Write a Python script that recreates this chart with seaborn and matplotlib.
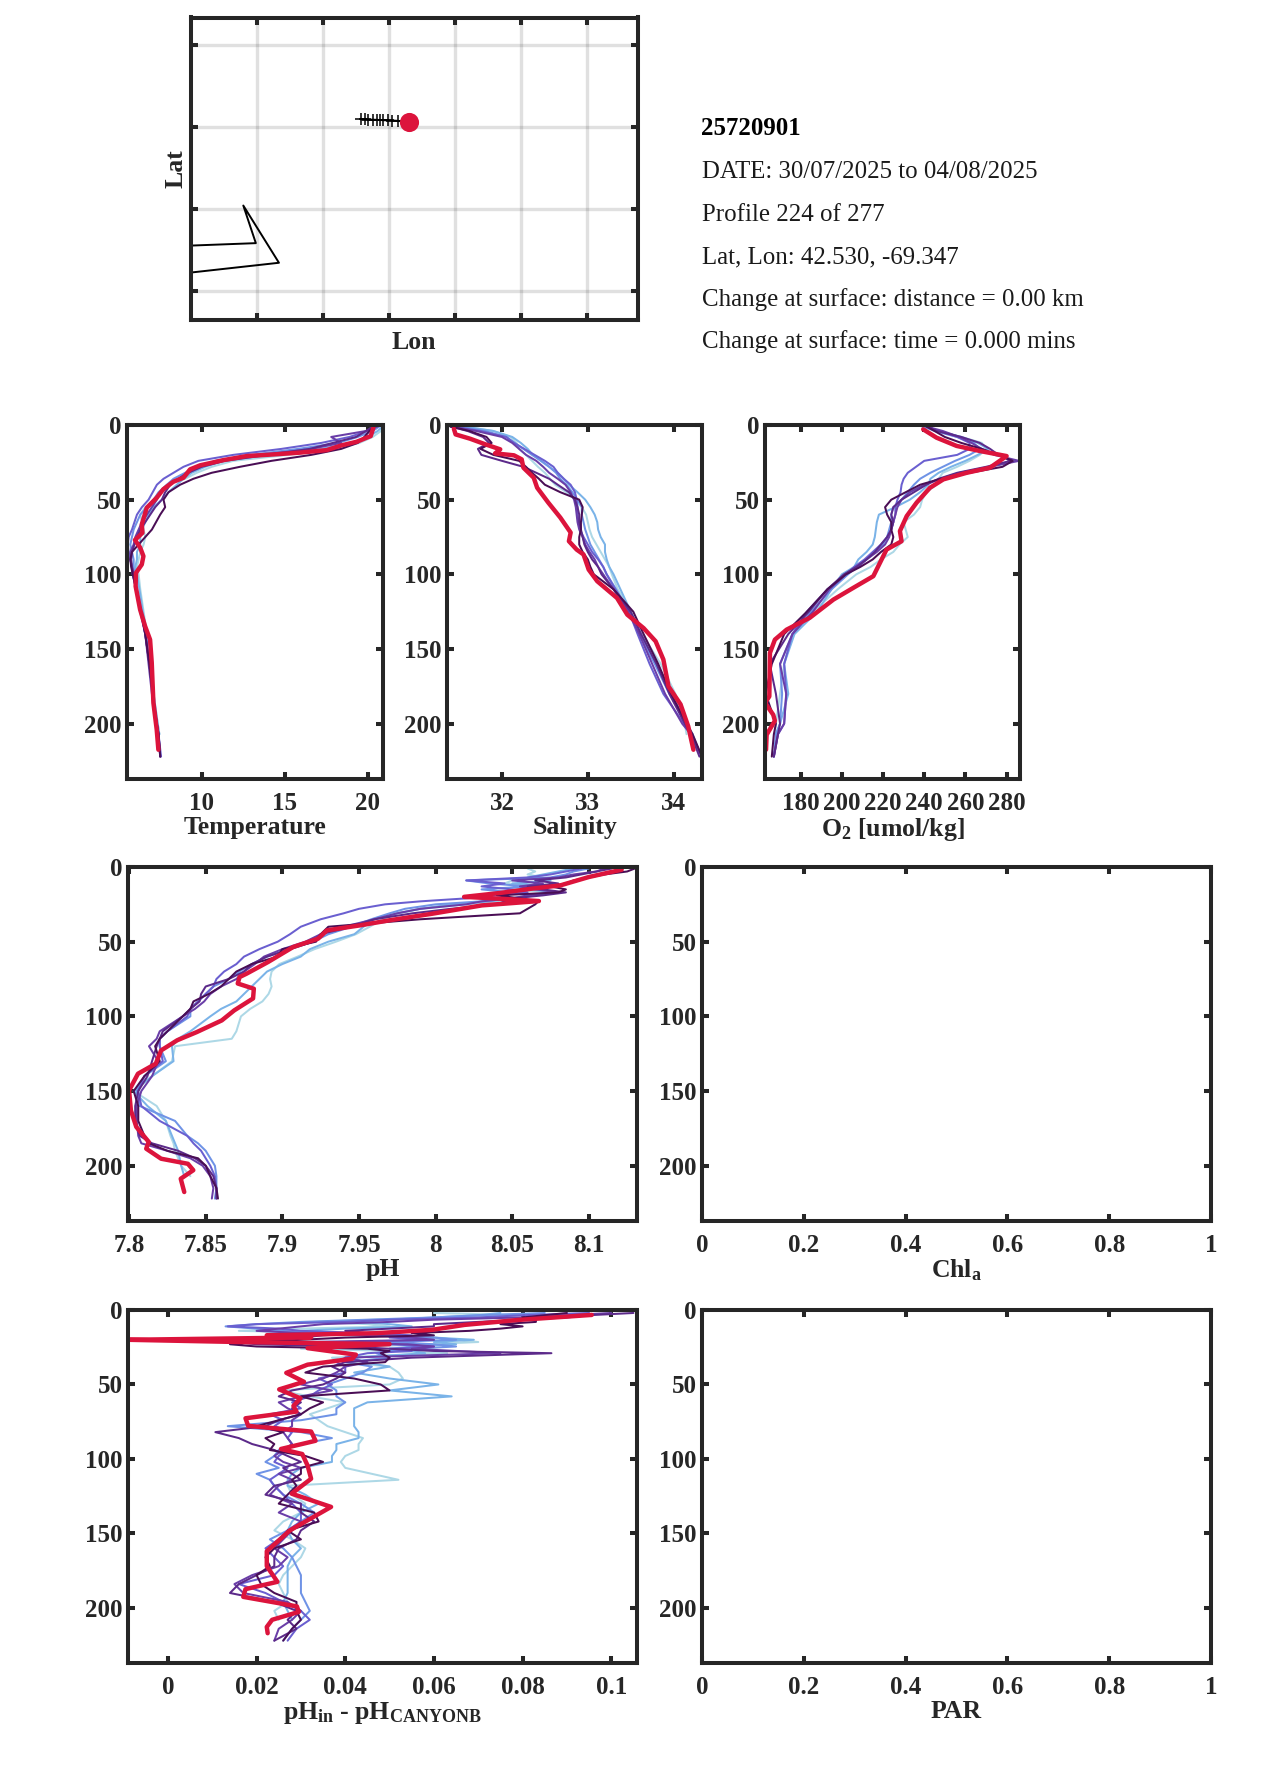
import numpy as np
import matplotlib
matplotlib.use('Agg')
import matplotlib.pyplot as plt
import seaborn as sns

W, H = 1275, 1771
INK = '#262626'
RED = '#DC143C'
SERIES_COLORS = ['#add8e6', '#7ab3e8', '#6f93e6', '#6a5fd0', '#6a3ea8', '#5c2a8a', '#4a0e55']

# map
COAST_LON = [-71.0, -70.505, -70.6, -70.33, -71.0]
COAST_LAT = [41.775, 41.79, 42.02, 41.67, 41.61]
TRACK_LON = [-69.71, -69.68, -69.655, -69.62, -69.585, -69.565, -69.54, -69.505, -69.47, -69.43, -69.347]
TRACK_LAT = [42.547, 42.547, 42.546, 42.545, 42.544, 42.543, 42.542, 42.541, 42.54, 42.538, 42.53]
LON_TICKS = [-70.5, -70, -69.5, -69, -68.5, -68]
LAT_TICKS = [41.5, 42, 42.5, 43]
INFO_ID = '25720901'
INFO_LINES = ['DATE: 30/07/2025 to 04/08/2025', 'Profile 224 of 277', 'Lat, Lon: 42.530, -69.347',
              'Change at surface: distance = 0.00 km', 'Change at surface: time = 0.000 mins']

DEPTH_TICKS = [0, 50, 100, 150, 200]

# temperature / salinity / oxygen share one depth grid
DEPTH_A = [1, 4, 8, 12, 16, 20, 24, 28, 32, 36, 40, 45, 50, 55, 60, 65, 70, 75, 80, 85, 90, 95, 100, 110, 125, 140, 160, 180, 200, 207, 222]

TEMP = [
    [20.9, 20.8, 20.3, 19.5, 18.0, 15.2, 11.9, 10.6, 9.7, 9.0, 7.9, 7.5, 7.2, 6.6, 6.3, 6.4, 6.5, 6.6, 6.5, 6.3, 6.2, 6.1, 6.2, 6.3, 6.5, 6.7, 6.9, 7.1, 7.35, 7.45],
    [20.9, 20.6, 20.0, 19.0, 17.2, 14.0, 11.3, 10.2, 9.4, 8.9, 8.5, 8.0, 7.6, 7.1, 6.8, 6.6, 6.4, 6.3, 6.3, 6.1, 6.1, 6.0, 6.1, 6.25, 6.45, 6.7, 6.9, 7.1, 7.35, 7.45],
    [20.7, 20.3, 19.4, 18.2, 15.8, 13.0, 10.8, 9.9, 9.0, 8.3, 7.9, 7.4, 7.1, 6.7, 6.3, 6.1, 5.9, 5.8, 5.7, 5.8, 5.9, 5.9, 5.95, 6.1, 6.4, 6.65, 6.85, 7.05, 7.3, 7.4],
    [20.4, 20.0, 18.9, 17.2, 14.8, 11.9, 9.8, 8.9, 8.3, 7.7, 7.3, 7.05, 6.8, 6.4, 6.1, 5.95, 5.8, 5.6, 5.55, 5.6, 5.7, 5.8, 5.85, 6.05, 6.35, 6.6, 6.85, 7.05, 7.3, 7.4, 7.55],
    [20.6, 19.9, 17.8, 18.4, 16.6, 13.6, 10.9, 9.8, 9.1, 8.6, 8.0, 7.5, 7.3, 7.0, 6.7, 6.4, 6.2, 6.0, 5.9, 5.7, 5.7, 5.8, 5.85, 6.05, 6.3, 6.6, 6.8, 7.0, 7.25, 7.4, 7.5],
    [20.3, 19.9, 19.3, 17.9, 16.5, 14.0, 11.4, 10.0, 9.2, 8.6, 8.1, 7.8, 7.6, 7.2, 6.9, 6.6, 6.3, 6.1, 5.95, 5.8, 5.75, 5.8, 5.9, 6.05, 6.35, 6.6, 6.85, 7.05, 7.3, 7.4, 7.5],
    [20.4, 20.1, 19.8, 19.4, 18.4, 16.6, 14.2, 12.3, 10.6, 9.5, 8.7, 8.0, 7.7, 7.8, 7.5, 7.25, 7.0, 6.6, 6.2, 5.8, 5.7, 5.75, 5.85, 6.05, 6.35, 6.6, 6.85, 7.05, 7.3, 7.4, 7.5],
]
TEMP_RED = [20.34, 20.18, 19.34, 18.43, 17.53, 15.92, 14.32, 12.71, 11.31, 9.9, 9.3, 8.9, 8.29, 7.69, 7.29, 6.69, 6.39, 6.43, 5.98, 6.29, 6.49, 6.39, 6.04, 6.02, 6.29, 6.59, 6.89, 6.99, 7.09, 7.29, 7.39]
TEMP_RED_D = [1.8, 7.4, 11.2, 13.6, 16.8, 18.5, 19.7, 20.8, 23.5, 27, 29.7, 35.3, 38, 43, 48.7, 55.4, 66.6, 72.2, 77, 82, 87.8, 93.4, 99, 108, 123.6, 134.7, 143.7, 159, 186, 204, 217.4]

SAL = [
    [31.55, 31.9, 32.1, 32.17, 32.2, 32.28, 32.35, 32.42, 32.5, 32.56, 32.62, 32.75, 32.85, 32.93, 32.98, 33.0, 33.02, 33.05, 33.1, 33.15, 33.2, 33.25, 33.28, 33.35, 33.5, 33.63, 33.85, 34.02, 34.13, 34.15],
    [31.55, 31.9, 32.12, 32.22, 32.3, 32.36, 32.45, 32.55, 32.65, 32.72, 32.78, 32.88, 32.97, 33.03, 33.08, 33.11, 33.12, 33.15, 33.2, 33.2, 33.22, 33.25, 33.3, 33.38, 33.5, 33.62, 33.8, 33.98, 34.15, 34.22],
    [31.48, 31.8, 32.05, 32.15, 32.25, 32.35, 32.46, 32.55, 32.63, 32.68, 32.75, 32.82, 32.88, 32.93, 32.93, 32.95, 32.97, 33.0, 33.03, 33.08, 33.13, 33.18, 33.22, 33.33, 33.48, 33.6, 33.78, 33.95, 34.15, 34.22, 34.32],
    [31.42, 31.75, 32.05, 32.14, 32.26, 32.38, 32.5, 32.6, 32.65, 32.72, 32.8, 32.85, 32.87, 32.88, 32.88, 32.89, 32.91, 32.95, 33.0, 33.05, 33.12, 33.18, 33.22, 33.32, 33.48, 33.58, 33.72, 33.88, 34.12, 34.2, 34.33],
    [31.4, 31.7, 32.0, 32.12, 32.2, 32.28, 32.4, 32.48, 32.55, 32.65, 32.74, 32.8, 32.84, 32.86, 32.87, 32.88, 32.9, 32.94, 32.97, 33.02, 33.08, 33.12, 33.18, 33.3, 33.47, 33.6, 33.75, 33.9, 34.1, 34.2, 34.33],
    [31.4, 31.6, 31.78, 31.85, 31.72, 31.76, 32.0, 32.25, 32.4, 32.55, 32.65, 32.78, 32.85, 32.88, 32.9, 32.9, 32.92, 32.94, 32.96, 33.0, 33.05, 33.12, 33.16, 33.3, 33.5, 33.62, 33.8, 33.95, 34.13, 34.2, 34.3],
    [31.4, 31.62, 31.82, 31.88, 31.75, 31.9, 32.2, 32.28, 32.35, 32.43, 32.5, 32.68, 32.9, 32.94, 32.93, 32.92, 32.92, 32.9, 32.9, 32.94, 33.0, 33.03, 33.07, 33.3, 33.53, 33.65, 33.82, 33.97, 34.15, 34.22, 34.33],
]
SAL_RED = [31.44, 31.46, 31.63, 31.81, 31.98, 31.92, 32.14, 32.23, 32.25, 32.37, 32.41, 32.54, 32.68, 32.8, 32.78, 32.87, 32.95, 33.01, 33.11, 33.34, 33.46, 33.65, 33.79, 33.88, 33.94, 34.08, 34.17, 34.23]
SAL_RED_D = [2.5, 6.3, 9.2, 13, 16.3, 19, 20.3, 23, 28.6, 35.3, 42, 52, 62, 72, 77.8, 83.4, 86.7, 96.8, 104.6, 115.8, 127, 136, 144.8, 157, 175, 187, 201.8, 217.4]

OXY = [
    [239, 246, 258, 268, 270, 267, 262, 256, 249, 247, 246, 241, 239, 238, 235, 230, 231, 232, 228, 225, 219, 214, 207, 198, 186, 176, 172, 170, 168, 167.5],
    [239, 247, 258, 266, 271, 266, 260, 253, 247, 243, 242, 238, 233, 226, 218, 217, 216.5, 216, 215, 212, 208, 206, 200, 195, 188, 177, 172, 174, 170, 168],
    [240, 245, 256, 264, 267, 262, 255, 249, 243, 238, 235, 232, 229, 225, 224, 224, 223, 222, 220, 216, 212, 207, 203, 195, 185, 176, 170, 171, 170, 168, 167],
    [241, 247, 256, 262, 262, 256, 240, 236, 232, 230, 229, 228.5, 227, 226, 226, 225, 224, 222, 219, 215, 211, 206, 202, 193, 183, 176, 172, 173, 172, 169, 167],
    [241, 249, 257, 263, 268, 274, 286, 272, 257, 248, 240, 233, 229, 227, 226, 225, 224, 223, 221, 217, 212, 208, 202, 194, 186, 176, 170, 173, 172, 169, 167],
    [242, 246, 258, 267, 272, 276, 282, 270, 256, 247, 241, 235, 229, 225, 224, 225, 224, 222, 219, 216, 212, 207, 201, 193, 184, 174, 165, 168, 170, 169, 167],
    [241, 245, 250, 258, 268, 276, 283, 278, 262, 248, 238, 231, 224, 221, 222, 224, 224, 225, 224, 219, 215, 209, 202, 193, 183, 172, 166, 163, 168, 167, 166],
]
OXY_RED = [239.5, 246, 255.7, 267, 280, 271.9, 260.6, 249.3, 242.8, 236.3, 231.5, 228.2, 229, 221.7, 218.5, 215.3, 205.6, 195.9, 184.5, 173.2, 167.5, 165.1, 164.8, 162.7, 166.7, 167.5, 163.5, 163.2]
OXY_RED_D = [2.9, 8.5, 14, 17.4, 20.8, 28.6, 32, 36.4, 42, 52, 61, 71, 77.8, 83.4, 92.3, 101.2, 109, 116.9, 129, 137, 143.7, 152.6, 181.7, 186, 194, 198, 207.4, 217.4]

DEPTH_P = [1, 3, 5, 7, 9, 11, 13, 15, 17, 19, 21, 23, 25, 28, 31, 35, 40, 45, 50, 55, 60, 65, 70, 75, 80, 85, 90, 95, 100, 110, 115, 120, 130, 140, 150, 160, 170, 180, 185, 190, 195, 200, 207, 215, 222]
PH = [
    [8.06, 8.065, 8.06, 8.07, 8.05, 8.045, 8.07, 8.05, 8.075, 8.06, 8.05, 8.04, 8.02, 7.99, 7.975, 7.965, 7.957, 7.948, 7.935, 7.921, 7.91, 7.898, 7.893, 7.892, 7.893, 7.891, 7.887, 7.879, 7.873, 7.87, 7.867, 7.83, 7.828, 7.815, 7.803, 7.818, 7.824, 7.827, 7.829, 7.83, 7.832, 7.834, 7.84],
    [8.09, 8.08, 8.07, 8.06, 8.075, 8.05, 8.08, 8.06, 8.08, 8.065, 8.05, 8.035, 8.01, 7.99, 7.975, 7.96, 7.953, 7.947, 7.93, 7.918, 7.912, 7.9, 7.89, 7.885, 7.88, 7.875, 7.87, 7.86, 7.853, 7.84, 7.832, 7.828, 7.829, 7.815, 7.803, 7.812, 7.824, 7.828, 7.83, 7.832, 7.833, 7.834, 7.836],
    [8.1, 8.09, 8.085, 8.075, 8.02, 8.035, 8.06, 8.03, 8.05, 8.065, 8.05, 8.03, 8.0, 7.98, 7.97, 7.958, 7.945, 7.93, 7.92, 7.905, 7.89, 7.88, 7.872, 7.865, 7.855, 7.85, 7.845, 7.84, 7.84, 7.825, 7.82, 7.82, 7.824, 7.81, 7.805, 7.807, 7.83, 7.838, 7.845, 7.85, 7.853, 7.856, 7.857, 7.857, 7.856],
    [8.095, 8.085, 8.075, 8.06, 8.02, 8.045, 8.03, 8.05, 8.06, 8.04, 8.02, 7.99, 7.967, 7.95, 7.94, 7.925, 7.912, 7.905, 7.897, 7.885, 7.875, 7.87, 7.862, 7.857, 7.855, 7.85, 7.845, 7.84, 7.838, 7.825, 7.82, 7.82, 7.822, 7.81, 7.806, 7.808, 7.82, 7.838, 7.842, 7.847, 7.85, 7.853, 7.856, 7.857, 7.857],
    [8.11, 8.105, 8.09, 8.08, 8.05, 8.07, 8.055, 8.065, 8.08, 8.06, 8.05, 8.03, 8.02, 7.99, 7.975, 7.96, 7.94, 7.925, 7.915, 7.9, 7.888, 7.882, 7.875, 7.87, 7.86, 7.853, 7.849, 7.843, 7.835, 7.82, 7.818, 7.813, 7.819, 7.815, 7.808, 7.805, 7.805, 7.806, 7.808, 7.825, 7.84, 7.848, 7.853, 7.855, 7.854],
    [8.115, 8.105, 8.095, 8.085, 8.065, 8.08, 8.06, 8.07, 8.085, 8.07, 8.05, 8.045, 8.04, 8.01, 7.985, 7.96, 7.945, 7.925, 7.92, 7.905, 7.89, 7.88, 7.875, 7.865, 7.85, 7.847, 7.846, 7.84, 7.835, 7.822, 7.82, 7.818, 7.815, 7.812, 7.806, 7.804, 7.804, 7.807, 7.815, 7.832, 7.843, 7.85, 7.855, 7.857, 7.857],
    [8.13, 8.125, 8.11, 8.1, 8.09, 8.085, 8.075, 8.085, 8.08, 8.04, 8.055, 8.067, 8.065, 8.06, 8.055, 7.99, 7.93, 7.925, 7.922, 7.9, 7.897, 7.88, 7.87, 7.865, 7.86, 7.852, 7.842, 7.84, 7.835, 7.825, 7.82, 7.817, 7.82, 7.81, 7.803, 7.806, 7.806, 7.81, 7.813, 7.825, 7.845, 7.85, 7.853, 7.857, 7.858],
]
PH_RED = [8.1214, 8.1, 8.0814, 8.0628, 8.0419, 8.0186, 8.0419, 8.0674, 8.0302, 7.9977, 7.9698, 7.9512, 7.9291, 7.9233, 7.907, 7.8907, 7.8767, 7.8721, 7.8709, 7.8814, 7.8809, 7.8686, 7.8605, 7.8442, 7.8314, 7.8209, 7.8174, 7.8058, 7.8, 7.8012, 7.8047, 7.8128, 7.8112, 7.8209, 7.8384, 7.8419, 7.8337, 7.836]
PH_RED_D = [1.8, 6.7, 12.3, 14.5, 17.4, 20, 21.2, 22.8, 25.7, 31.3, 35.7, 39, 42.4, 48, 53.6, 63.6, 71.4, 73.7, 78, 81.5, 88, 96, 102.7, 110.5, 116, 122.8, 131.7, 138.4, 149.6, 163, 174, 184, 188.6, 195.3, 198.7, 203, 208.7, 217.6]

DEPTH_D = [2, 3.5, 5, 6.5, 8, 9.5, 11, 12.5, 14, 15.5, 17, 18.5, 20, 21.5, 23, 24.5, 26, 27.5, 29, 32, 35, 38, 42, 46, 50, 54, 58, 62, 66, 70, 74, 78, 82, 86, 90, 94, 98, 102, 106, 110, 114, 118, 124, 130, 136, 142, 148, 154, 160, 166, 172, 178, 184, 190, 196, 202, 208, 214, 222]
DIFF = [
    [.06, .08, .065, .047, .033, .045, .05, .03, .016, .04, .05, .06, .065, .07, .058, .045, .03, .05, .063, .037, .04, .05, .052, .053, .05, .025, .032, .04, .036, .032, .034, .036, .04, .044, .043, .043, .04, .039, .04, .046, .052, .027, .028, .031, .03, .026, .024, .028, .031, .03, .028, .026, .025, .026, .027, .024, .025],
    [.075, .07, .06, .05, .043, .05, .055, .04, .03, .04, .047, .06, .069, .06, .065, .055, .05, .055, .058, .042, .044, .05, .042, .05, .061, .05, .064, .045, .042, .042, .042, .042, .043, .043, .038, .038, .037, .037, .03, .028, .027, .027, .031, .034, .03, .028, .027, .028, .03, .028, .027, .027, .027, .027, .026, .027, .028],
    [.085, .07, .06, .045, .03, .02, .013, .02, .025, .04, .05, .06, .065, .05, .06, .065, .055, .05, .047, .05, .04, .046, .044, .04, .036, .038, .038, .04, .038, .038, .03, .0135, .03, .037, .03, .025, .024, .022, .025, .02, .023, .024, .026, .03, .033, .03, .027, .023, .026, .028, .029, .03, .03, .03, .031, .032, .03, .028, .026],
    [.095, .08, .07, .05, .04, .02, .0135, .025, .03, .045, .055, .05, .06, .04, .05, .06, .05, .055, .045, .04, .038, .04, .04, .034, .037, .034, .032, .028, .03, .023, .026, .024, .028, .027, .028, .027, .025, .024, .027, .025, .023, .024, .026, .028, .03, .03, .027, .025, .022, .024, .026, .024, .016, .022, .026, .03, .032, .029, .027],
    [.1, .09, .08, .06, .05, .035, .03, .025, .02, .03, .045, .055, .06, .03, .054, .06, .055, .065, .075, .04, .045, .04, .038, .035, .03, .037, .03, .025, .027, .03, .028, .028, .026, .027, .028, .026, .024, .026, .03, .025, .028, .025, .023, .028, .025, .03, .028, .026, .024, .027, .025, .019, .015, .017, .027, .03, .028, .025, .024],
    [.105, .095, .09, .08, .07, .06, .06, .05, .04, .045, .035, .03, .025, .015, .02, .04, .05, .06, .0865, .055, .04, .037, .04, .038, .035, .028, .025, .03, .028, .03, .025, .022, .0107, .016, .019, .024, .027, .03, .026, .028, .03, .024, .022, .03, .03, .033, .03, .029, .025, .024, .024, .02, .016, .014, .024, .029, .027, .029, .024],
    [.09, .085, .08, .083, .083, .075, .08, .075, .068, .055, .06, .04, .03, .02, .014, .02, .045, .05, .048, .05, .049, .035, .031, .042, .048, .05, .03, .035, .032, .03, .025, .02, .026, .022, .024, .023, .031, .035, .03, .03, .028, .029, .027, .025, .033, .034, .027, .03, .024, .022, .023, .02, .021, .024, .029, .029, .03, .028, .026],
]
DIFF_RED = [.0956, .0789, .0669, .0596, .0468, .0223, .0323, -.009, .0179, .05, .0315, .0424, .0416, .0315, .0267, .0307, .0251, .0299, .0283, .029, .0175, .0181, .0323, .0333, .0255, .0303, .0315, .0323, .0279, .0368, .0275, .0223, .0223, .0247, .0175, .017, .0291, .0295, .0235, .0223, .0225]
DIFF_RED_D = [3.3, 6.7, 10, 13.3, 15.6, 17, 18.4, 20, 21.6, 22.9, 25.6, 30, 32.7, 36.7, 42.2, 48.2, 53.3, 59.3, 64.4, 68.2, 72.7, 77.8, 81.6, 87.8, 93.3, 96.7, 104.4, 113.3, 123.3, 132.2, 148, 162, 172, 182.5, 187.4, 192.6, 199, 202.7, 208, 212.8, 217]

sns.set_theme(style='white')
plt.rcParams['font.family'] = ['Liberation Serif', 'DejaVu Serif']
plt.rcParams['mathtext.fontset'] = 'custom'
plt.rcParams['mathtext.bf'] = 'Liberation Serif:bold'
plt.rcParams['mathtext.rm'] = 'Liberation Serif:bold'
plt.rcParams['mathtext.default'] = 'bf'

fig = plt.figure(figsize=(W / 100, H / 100), dpi=100)


def make_axes(left, right, top, bottom):
    # pixel box to figure fractions
    ax = fig.add_axes([left / W, 1 - bottom / H, (right - left) / W, (bottom - top) / H])
    for s in ax.spines.values():
        s.set_linewidth(2.9)
        s.set_color(INK)
    ax.tick_params(direction='in', top=True, right=True, bottom=True, left=True, length=5, width=2.9, color=INK,
                   labelcolor=INK, labelsize=18)
    ax.tick_params(axis='x', pad=9)
    ax.tick_params(axis='y', pad=4)
    return ax


def profile_panel(box, xlim, xticks, xlabels, label, series=None, depth=None, red=None, red_d=None):
    ax = make_axes(*box)
    if series is not None:
        for vals, col in zip(series, SERIES_COLORS):
            sns.lineplot(x=vals, y=depth[:len(vals)], sort=False, estimator=None, orient='y',
                         color=col, linewidth=1.45, ax=ax)
        sns.lineplot(x=red, y=red_d, sort=False, estimator=None, orient='y',
                     color=RED, linewidth=3.2, ax=ax)
    ax.set_xlim(*xlim)
    ax.set_ylim(237, 0)
    ax.set_xticks(xticks)
    ax.set_xticklabels(xlabels, fontweight='bold')
    ax.set_yticks(DEPTH_TICKS)
    ax.set_yticklabels([str(d) for d in DEPTH_TICKS], fontweight='bold')
    ax.set_xlabel(label, fontweight='bold', fontsize=18.5, color=INK, labelpad=1)
    return ax


# map panel
ax = make_axes(190.5, 638, 17.5, 320)
ax.grid(True, color=INK, alpha=0.14, linewidth=2.4)
sns.lineplot(x=COAST_LON, y=COAST_LAT, sort=False, estimator=None, orient='y', color='black', linewidth=1.4, ax=ax)
sns.lineplot(x=TRACK_LON, y=TRACK_LAT, sort=False, estimator=None, orient='y', color='black', linewidth=1.4,
             marker='+', markersize=8, markeredgewidth=1.1, markeredgecolor='black', ax=ax)
sns.scatterplot(x=TRACK_LON[-1:], y=TRACK_LAT[-1:], color=RED, s=190, linewidth=0, zorder=5, ax=ax)
ax.set_xlim(-71, -67.61)
ax.set_ylim(41.32, 43.17)
ax.set_xticks(LON_TICKS)
ax.set_yticks(LAT_TICKS)
ax.set_xticklabels([])
ax.set_yticklabels([])
ax.set_xlabel('Lon', fontweight='bold', fontsize=18.5, color=INK, labelpad=-1)
ax.set_ylabel('Lat', fontweight='bold', fontsize=18.5, color=INK, labelpad=-2)

# info text
fig.text(701.5 / W, 1 - 135 / H, INFO_ID, fontsize=17.9, fontweight='bold', color='black', va='baseline')
for line, y in zip(INFO_LINES, [178, 221, 263, 306, 348]):
    fig.text(701.5 / W, 1 - y / H, line, fontsize=17.9, color='#1a1a1a', va='baseline')

# top row
profile_panel((127, 383, 425, 779), (5.5, 20.92), [10, 15, 20], ['10', '15', '20'], 'Temperature',
              TEMP, DEPTH_A, TEMP_RED, TEMP_RED_D)
profile_panel((447, 702, 425, 779), (31.36, 34.33), [32, 33, 34], ['32', '33', '34'], 'Salinity',
              SAL, DEPTH_A, SAL_RED, SAL_RED_D)
profile_panel((765, 1020, 425, 779), (162.7, 286.5), [180, 200, 220, 240, 260, 280],
              ['180', '200', '220', '240', '260', '280'], r'O$_{2}$ [umol/kg]',
              OXY, DEPTH_A, OXY_RED, OXY_RED_D)

# middle row
profile_panel((128, 637, 867, 1221), (7.7993, 8.1314), [7.8, 7.85, 7.9, 7.95, 8, 8.05, 8.1],
              ['7.8', '7.85', '7.9', '7.95', '8', '8.05', '8.1'], 'pH',
              PH, DEPTH_P, PH_RED, PH_RED_D)
profile_panel((702, 1211, 867, 1221), (0, 1), [0, .2, .4, .6, .8, 1],
              ['0', '0.2', '0.4', '0.6', '0.8', '1'], r'Chl$_{a}$')

# bottom row
profile_panel((128, 637, 1310, 1663), (-0.009, 0.1058), [0, .02, .04, .06, .08, .1],
              ['0', '0.02', '0.04', '0.06', '0.08', '0.1'], r'pH$_{in}$ - pH$_{CANYONB}$',
              DIFF, DEPTH_D, DIFF_RED, DIFF_RED_D)
profile_panel((702, 1211, 1310, 1663), (0, 1), [0, .2, .4, .6, .8, 1],
              ['0', '0.2', '0.4', '0.6', '0.8', '1'], 'PAR')

fig.savefig('out.png', dpi=100, facecolor='white')
